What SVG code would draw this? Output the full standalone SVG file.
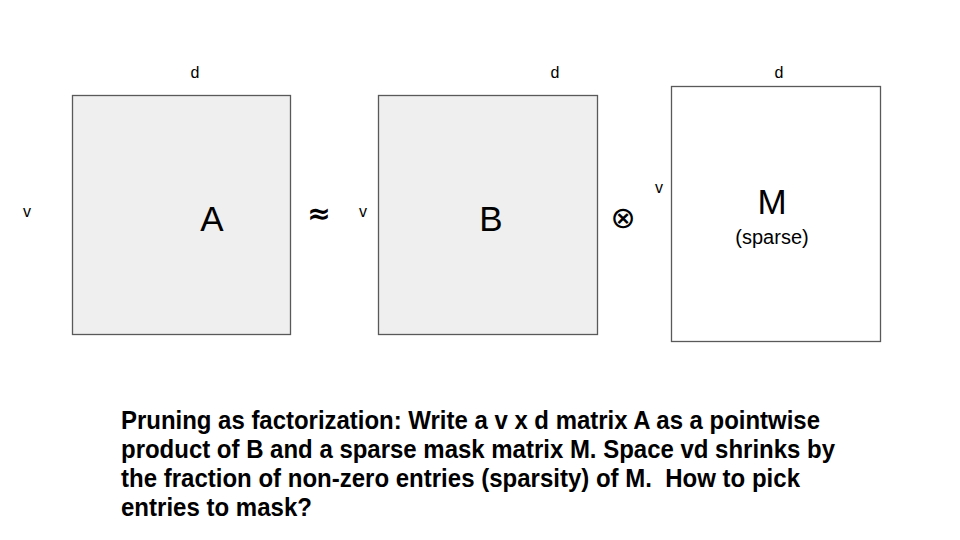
<svg xmlns="http://www.w3.org/2000/svg" width="960" height="540" viewBox="0 0 960 540">
<style>
.mat{stroke:#595959;stroke-width:1.3}
.g{fill:#efefef}
.w{fill:#ffffff}
.lbl{font-family:"Liberation Sans",Arial,sans-serif;font-size:16px;fill:#000;text-anchor:middle}
.big{font-family:"Liberation Sans",Arial,sans-serif;font-size:35px;fill:#000;text-anchor:middle}
.cap{font-family:"Liberation Sans",Arial,sans-serif;font-size:20px;fill:#000;text-anchor:middle}
.sym{font-family:"DejaVu Sans",sans-serif;fill:#000;text-anchor:middle}
.body{font-family:"Liberation Sans",Arial,sans-serif;font-size:25px;font-weight:bold;fill:#000}
</style>
<rect width="960" height="540" fill="#fff"/>
<g id="matrixA">
<rect class="mat g" x="72.5" y="95.5" width="218" height="239"/>
<text class="big" x="212" y="231">A</text>
<text class="lbl" x="195" y="78">d</text>
<text class="lbl" x="27" y="217">v</text>
</g>
<g id="approx">
<text class="sym" x="319" y="223" font-size="28" font-weight="bold">≈</text>
</g>
<g id="matrixB">
<rect class="mat g" x="378.5" y="95.5" width="219" height="239"/>
<text class="big" x="491" y="231">B</text>
<text class="lbl" x="555" y="78">d</text>
<text class="lbl" x="363" y="217">v</text>
</g>
<g id="otimes">
<text class="sym" x="623" y="228" font-size="30">⊗</text>
</g>
<g id="matrixM">
<rect class="mat w" x="671.5" y="86.5" width="209" height="255"/>
<text class="big" x="772" y="214" font-size="31">M</text>
<text class="cap" x="772" y="244">(sparse)</text>
<text class="lbl" x="779" y="78">d</text>
<text class="lbl" x="659" y="193">v</text>
</g>
<g id="caption">
<text class="body" x="121" y="429" textLength="699" lengthAdjust="spacingAndGlyphs">Pruning as factorization: Write a v x d matrix A as a pointwise</text>
<text class="body" x="121" y="458" textLength="714" lengthAdjust="spacingAndGlyphs">product of B and a sparse mask matrix M. Space vd shrinks by</text>
<text class="body" x="121" y="487" textLength="679" lengthAdjust="spacingAndGlyphs">the fraction of non-zero entries (sparsity) of M.&#160; How to pick</text>
<text class="body" x="121" y="516" textLength="191" lengthAdjust="spacingAndGlyphs">entries to mask?</text>
</g>
<g id="connectors"></g>
</svg>
